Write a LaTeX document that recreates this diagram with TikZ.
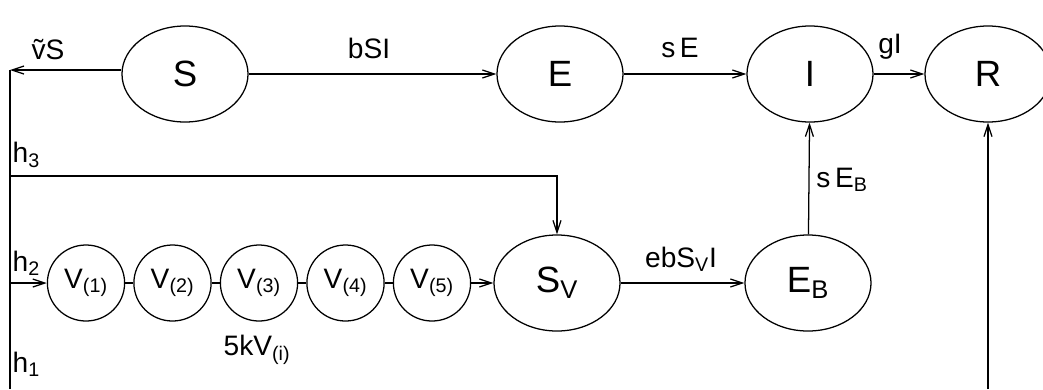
\documentclass[tikz,border=0pt]{standalone}
\usepackage{amsmath}
\usepackage{fontspec}
\setmainfont{Liberation Sans}
\usepackage{tikz}
\usetikzlibrary{positioning,arrows.meta,shapes.geometric}
\newcommand{\dn}[1]{$_{\text{#1}}$}

\begin{document}
\begin{tikzpicture}[x=0.025cm, y=-0.025cm,
    st/.style={ellipse, draw, line width=0.9pt, inner sep=0pt,
               minimum width=3.15cm, minimum height=2.4cm,
               font=\fontsize{26}{29}\selectfont},
    vst/.style={ellipse, draw, line width=0.9pt, inner sep=0pt,
               minimum width=1.93cm, minimum height=1.9cm,
               font=\fontsize{20}{23}\selectfont},
    lab/.style={font=\fontsize{20}{23}\selectfont, inner sep=1pt},
    fl/.style={-{Straight Barb[length=3mm, width=2mm]}, line width=0.9pt},
    ln/.style={line width=0.9pt},
  ]
    \useasboundingbox (0,0) rectangle (1043,389);

    % compartments
    \node[st] (S)  at (185,74)  {S};
    \node[st] (E)  at (560,74)  {E};
    \node[st] (I)  at (810,74)  {I};
    \node[st] (R)  at (988,74)  {R};
    \node[st] (SV) at (557,283) {S\dn{V}};
    \node[st] (EB) at (808,283) {E\dn{B}};

    % vaccine stages
    \foreach \i in {1,...,5}
      \node[vst] (V\i) at ({86+86.5*(\i-1)},283) {V\dn{(\i)}};

    % left border line and entry points
    \coordinate (top) at (10,70);
    \coordinate (bot) at (10,389);
    \coordinate (h3)  at (10,176);
    \coordinate (h2)  at (10,283);
    \coordinate (rin) at (988,389);

    \draw[fl] (S.west |- top) -- (top);
    \draw[ln] (top) -- (bot);
    \draw[fl] (h3) -| (SV);
    \draw[fl] (h2) -- (V1);
    \draw[ln] (V1) -- (V2);
    \draw[ln] (V2) -- (V3);
    \draw[ln] (V3) -- (V4);
    \draw[ln] (V4) -- (V5);
    \draw[fl] (V5) -- (SV);

    % transitions
    \draw[fl] (S)  -- (E);
    \draw[fl] (E)  -- (I);
    \draw[fl] (I)  -- (R);
    \draw[fl] (SV) -- (EB);
    \draw[fl] (EB) -- (I);
    \draw[fl] (rin) -- (R);

    % rate labels
    \node[lab] (lnu)  at (48,50)   {\~{v}S};
    \node[lab] (lbsi) at (369,48)  {bSI};
    \node[lab] (lse)  at (680,48)  {s\,E};
    \node[lab] (lgi)  at (890,47)  {gI};
    \node[lab] (lseb) at (842,180) {s\,E\dn{B}};
    \node[lab] (lebs) at (681,259) {ebS\dn{V}I};
    \node[lab, anchor=west] (lh3) at (11,155) {h\dn{3}};
    \node[lab, anchor=west] (lh2) at (11,263) {h\dn{2}};
    \node[lab, anchor=west] (lh1) at (11,364) {h\dn{1}};
    \node[lab] (lkv) at (257,350) {5kV\dn{(i)}};
\end{tikzpicture}
\end{document}
